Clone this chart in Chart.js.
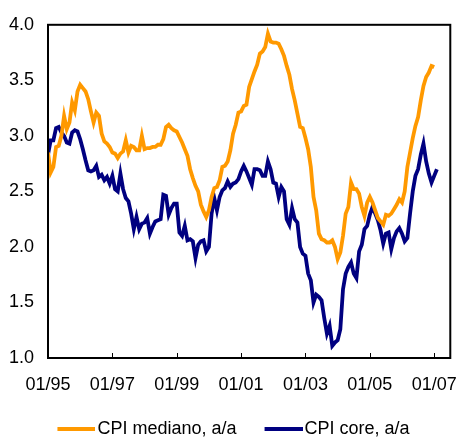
<!DOCTYPE html>
<html>
<head>
<meta charset="utf-8">
<title>CPI mediano vs CPI core</title>
<script src="https://cdn.jsdelivr.net/npm/chart.js@4/dist/chart.umd.min.js"></script>
<style>
    html, body { margin: 0; padding: 0; background: #fff; }
    canvas { display: block; }
</style>
</head>
<body>
<canvas id="cpiChart" width="473" height="439"></canvas>
<script>
// Monthly series starting 01/1995 (index 0 = Jan 1995)
const medianCpi = [
    2.85, 2.67, 2.72, 2.90, 2.91, 3.00, 3.18, 3.06, 3.12, 3.30, 3.23, 3.40,
    3.46, 3.43, 3.40, 3.33, 3.22, 3.12, 3.21, 3.18, 3.02, 2.95, 2.93, 2.90,
    2.85, 2.84, 2.80, 2.84, 2.86, 2.96, 2.85, 2.91, 2.90, 2.87, 2.87, 3.00,
    2.88, 2.89, 2.89, 2.90, 2.90, 2.92, 2.92, 2.97, 3.08, 3.10, 3.07, 3.05,
    3.04, 2.99, 2.94, 2.88, 2.82, 2.70, 2.62, 2.55, 2.50, 2.38, 2.32, 2.27,
    2.33, 2.45, 2.53, 2.54, 2.60, 2.72, 2.73, 2.77, 2.87, 3.02, 3.10, 3.21,
    3.22, 3.27, 3.28, 3.44, 3.51, 3.58, 3.64, 3.74, 3.76, 3.80, 3.92, 3.85,
    3.84, 3.84, 3.83, 3.78, 3.72, 3.63, 3.55, 3.42, 3.32, 3.20, 3.08, 3.07,
    2.98, 2.88, 2.72, 2.45, 2.33, 2.12, 2.07, 2.06, 2.04, 2.04, 2.06, 2.00,
    1.89, 1.95, 2.10, 2.30, 2.36, 2.58, 2.52, 2.52, 2.48, 2.36, 2.28, 2.40,
    2.45, 2.40, 2.33, 2.26, 2.23, 2.20, 2.29, 2.28, 2.30, 2.34, 2.38, 2.43,
    2.40, 2.50, 2.72, 2.85, 2.98, 3.09, 3.17, 3.32, 3.45, 3.53, 3.57, 3.63,
    3.62
];
const coreCpi = [
    2.83, 2.96, 2.96, 3.07, 3.08, 3.03, 3.00, 2.94, 2.93, 3.03, 3.05, 3.04,
    2.97, 2.88, 2.78, 2.69, 2.68, 2.69, 2.73, 2.63, 2.65, 2.60, 2.63, 2.57,
    2.64, 2.52, 2.50, 2.66, 2.52, 2.44, 2.41, 2.30, 2.16, 2.27, 2.16, 2.21,
    2.22, 2.26, 2.12, 2.18, 2.23, 2.24, 2.25, 2.47, 2.46, 2.29, 2.35, 2.39,
    2.39, 2.13, 2.10, 2.19, 2.06, 2.07, 2.05, 1.90, 2.02, 2.05, 2.06, 1.96,
    2.00, 2.30, 2.44, 2.33, 2.45, 2.51, 2.53, 2.59, 2.54, 2.57, 2.58, 2.61,
    2.68, 2.73, 2.68, 2.62, 2.56, 2.70, 2.70, 2.69, 2.64, 2.64, 2.77, 2.70,
    2.58, 2.57, 2.45, 2.54, 2.50, 2.25, 2.20, 2.35, 2.25, 2.22, 2.00, 1.94,
    1.92, 1.76, 1.70, 1.50, 1.57, 1.55, 1.52, 1.36, 1.22, 1.29, 1.11, 1.14,
    1.16, 1.26, 1.62, 1.76, 1.82, 1.86, 1.76, 1.72, 1.96, 2.02, 2.16, 2.19,
    2.29, 2.36, 2.30, 2.24, 2.15, 2.03, 2.12, 2.13, 1.98, 2.08, 2.14, 2.17,
    2.12, 2.05, 2.08, 2.30, 2.50, 2.64, 2.70, 2.83, 2.93, 2.77, 2.66, 2.58,
    2.64, 2.70
];
const tickMonths = [0, 24, 48, 72, 96, 120, 144];
const tickLabels = ['01/95', '01/97', '01/99', '01/01', '01/03', '01/05', '01/07'];
const seriesNames = ['CPI mediano, a/a', 'CPI core, a/a'];

const ORANGE = '#ff9900';
const NAVY = '#000080';
const FONT = { family: "'Liberation Sans', Arial, sans-serif", size: 18 };

// legend marker: a 38px line sitting at the right end of a 46px canvas,
// so it ends just before the label text
function lineSwatch(color) {
    const c = document.createElement('canvas');
    c.width = 46;
    c.height = 4;
    const g = c.getContext('2d');
    g.fillStyle = color;
    g.fillRect(8, 0, 38, 4);
    return c;
}

function toPoints(values) {
    return values.map(function(v, i) { return { x: i, y: v }; });
}

// box around the plot plus short inward tick marks on the time axis
const plotFrame = {
    id: 'plotFrame',
    afterDraw(chart) {
        const ctx = chart.ctx;
        const area = chart.chartArea;
        const xScale = chart.scales.x;
        ctx.save();
        ctx.strokeStyle = '#000';
        ctx.lineWidth = 1;
        tickMonths.forEach(function(m) {
            if (m === 0) return;
            const px = Math.round(xScale.getPixelForValue(m)) + 0.5;
            ctx.beginPath();
            ctx.moveTo(px, area.bottom);
            ctx.lineTo(px, area.bottom - 5);
            ctx.stroke();
        });
        ctx.lineWidth = 2;
        ctx.strokeRect(area.left, area.top, area.right - area.left, area.bottom - area.top);
        ctx.restore();
    }
};

// push the legend row lower and give the date labels room below the axis
const bottomLayout = {
    id: 'bottomLayout',
    afterLayout(chart) {
        if (chart.legend) {
            chart.legend.top += 9;
            chart.legend.bottom += 9;
        }
        chart.scales.x.bottom = chart.height;
    }
};

new Chart(document.getElementById('cpiChart'), {
    type: 'line',
    data: {
        datasets: [{
            label: seriesNames[0],
            data: toPoints(medianCpi),
            borderColor: ORANGE,
            backgroundColor: ORANGE,
            borderWidth: 3.8,
            pointRadius: 0,
            pointStyle: lineSwatch(ORANGE),
            tension: 0,
            fill: false
        }, {
            label: seriesNames[1],
            data: toPoints(coreCpi),
            borderColor: NAVY,
            backgroundColor: NAVY,
            borderWidth: 3.8,
            pointRadius: 0,
            pointStyle: lineSwatch(NAVY),
            tension: 0,
            fill: false
        }]
    },
    options: {
        responsive: false,
        animation: false,
        layout: {
            padding: { top: 21, right: 7, left: 0, bottom: 0 }
        },
        plugins: {
            legend: {
                position: 'bottom',
                labels: {
                    usePointStyle: true,
                    pointStyleWidth: 32,
                    padding: 27,
                    color: '#000',
                    font: FONT
                }
            },
            tooltip: { enabled: false }
        },
        scales: {
            x: {
                type: 'linear',
                min: 0,
                max: 150,
                grid: { display: false, drawTicks: false },
                border: { display: false },
                afterBuildTicks: function(scale) {
                    scale.ticks = tickMonths.map(function(m) { return { value: m }; });
                },
                afterFit: function(scale) {
                    scale.height = 26;
                },
                ticks: {
                    padding: 16,
                    maxRotation: 0,
                    autoSkip: false,
                    color: '#000',
                    font: FONT,
                    callback: function(value) {
                        const i = tickMonths.indexOf(value);
                        return i >= 0 ? tickLabels[i] : '';
                    }
                }
            },
            y: {
                min: 1,
                max: 4,
                grid: { display: false, drawTicks: false },
                border: { display: false },
                afterFit: function(scale) {
                    scale.width = 48;
                },
                ticks: {
                    stepSize: 0.5,
                    padding: 14,
                    color: '#000',
                    font: FONT,
                    callback: function(value) {
                        return value.toFixed(1);
                    }
                }
            }
        }
    },
    plugins: [plotFrame, bottomLayout]
});
</script>
</body>
</html>
